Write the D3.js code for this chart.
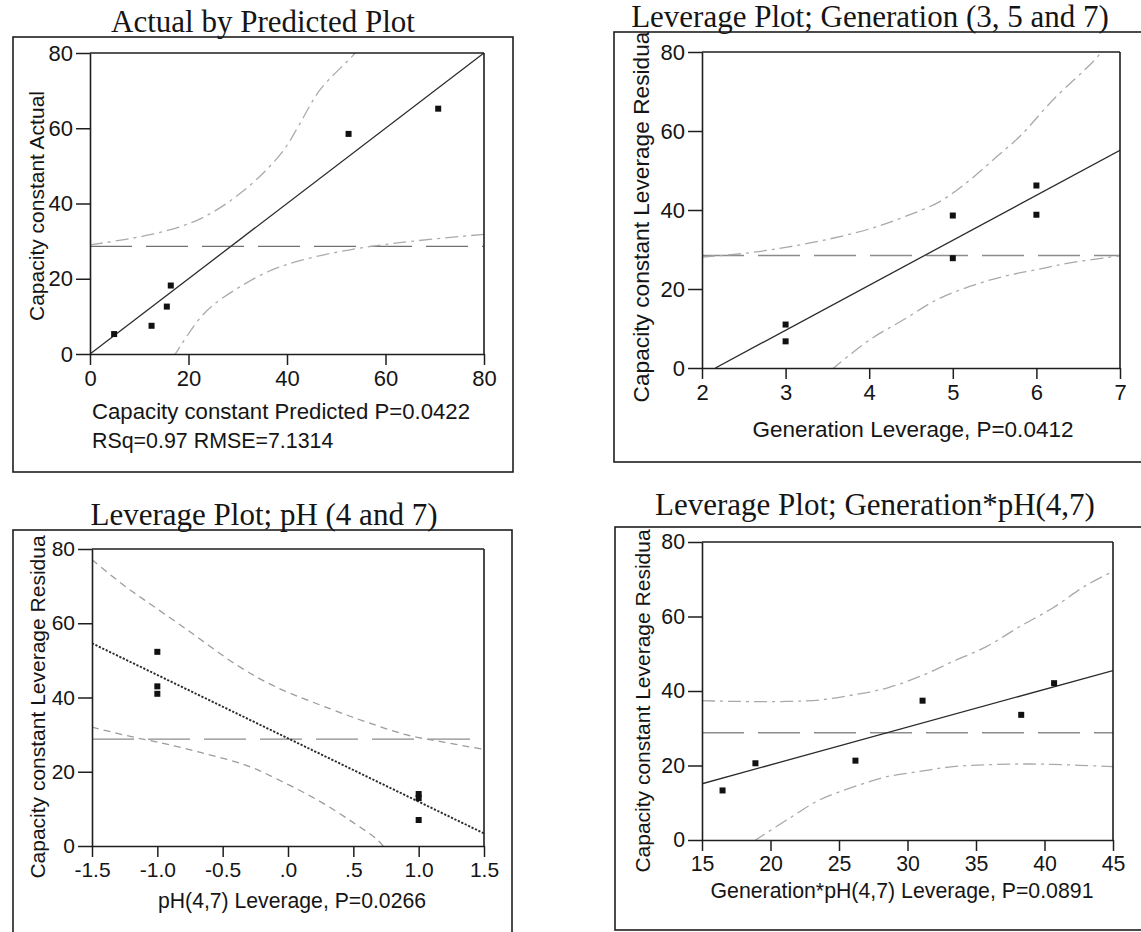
<!DOCTYPE html>
<html>
<head>
<meta charset="utf-8">
<script src="https://cdn.jsdelivr.net/npm/d3@7"></script>
<style>
  html, body { margin: 0; padding: 0; background: #fff; }
  svg { display: block; }
</style>
</head>
<body>
<svg id="chart" width="1141" height="932"></svg>
<script>
// ---------- Actual by Predicted ----------
const apTitle = "Actual by Predicted Plot";
const apXLabel = "Capacity constant Predicted P=0.0422";
const apXLabel2 = "RSq=0.97 RMSE=7.1314";
const apYLabel = "Capacity constant Actual";
const apXTicks = [0, 20, 40, 60, 80];
const apXTickLabels = ["0", "20", "40", "60", "80"];
const apPredicted = [4.9, 12.5, 15.6, 16.4, 52.5, 70.7];
const apActual = [5.3, 7.5, 12.6, 18.2, 58.5, 65.2];
const apFitX = [0, 80];
const apFitY = [0, 80];
const apMean = 28.6;
const apUpperX = [0, 12.2, 20.6, 25.7, 30.5, 35.5, 39.6, 42.3, 46.7, 53.5, 55];
const apUpperY = [29.0, 31.7, 34.9, 38.3, 42.7, 48.5, 54.7, 60.5, 70.2, 79.5, 82];
const apLowerX = [16.8, 17.3, 22, 25, 30, 36, 42.6, 52.8, 62.9, 80];
const apLowerY = [-1, 0, 9.0, 13.0, 17.5, 21.8, 24.8, 27.7, 29.6, 31.8];

// ---------- Leverage: Generation ----------
const genTitle = "Leverage Plot; Generation (3, 5 and 7)";
const genXLabel = "Generation Leverage, P=0.0412";
const genYLabel = "Capacity constant Leverage Residua";
const genXTicks = [2, 3, 4, 5, 6, 7];
const genXTickLabels = ["2", "3", "4", "5", "6", "7"];
const genX = [3, 3, 5, 5, 6, 6];
const genY = [11.0, 6.75, 38.6, 27.8, 46.2, 38.8];
const genFitX = [2.16, 7];
const genFitY = [0, 55.1];
const genMean = 28.5;
const genUpperX = [2.0, 2.54, 3.02, 3.49, 3.97, 4.41, 4.85, 5.21, 5.53, 5.80, 6.20, 6.68, 6.80];
const genUpperY = [28.1, 29.1, 30.6, 32.5, 35.0, 38.2, 42.2, 47.7, 53.6, 58.6, 67.9, 77.6, 80.5];
const genLowerX = [3.55, 3.65, 4.01, 4.41, 4.81, 5.21, 5.61, 6.0, 6.40, 7.0];
const genLowerY = [-0.5, 1.3, 7.2, 12.2, 17.3, 20.7, 23.2, 24.9, 26.6, 28.4];

// ---------- Leverage: pH ----------
const phTitle = "Leverage Plot; pH (4 and 7)";
const phXLabel = "pH(4,7) Leverage, P=0.0266";
const phYLabel = "Capacity constant Leverage Residua";
const phXTicks = [-1.5, -1.0, -0.5, 0, 0.5, 1.0, 1.5];
const phXTickLabels = ["-1.5", "-1.0", "-0.5", ".0", ".5", "1.0", "1.5"];
const phX = [-1, -1, -1, 1, 1, 1];
const phY = [52.3, 43.0, 41.0, 14.0, 12.9, 7.0];
const phFitX = [-1.5, 1.5];
const phFitY = [54.6, 3.4];
const phMean = 28.8;
const phUpperX = [-1.5, -1.26, -1.10, -0.77, -0.39, -0.09, 0.32, 0.60, 0.91, 1.19, 1.5];
const phUpperY = [77.1, 70.3, 66.3, 58.2, 48.7, 42.8, 37.0, 33.4, 29.9, 28.0, 26.0];
const phLowerX = [-1.5, -1.18, -1.0, -0.67, -0.31, -0.03, 0.25, 0.5, 0.68, 0.74];
const phLowerY = [32.0, 29.3, 28.0, 25.2, 21.6, 17.1, 11.9, 6.3, 1.8, -0.5];

// ---------- Leverage: Generation*pH ----------
const gxpTitle = "Leverage Plot; Generation*pH(4,7)";
const gxpXLabel = "Generation*pH(4,7) Leverage, P=0.0891";
const gxpYLabel = "Capacity constant Leverage Residua";
const gxpXTicks = [15, 20, 25, 30, 35, 40, 45];
const gxpXTickLabels = ["15", "20", "25", "30", "35", "40", "45"];
const gxpX = [16.5, 18.9, 26.2, 31.1, 38.3, 40.7];
const gxpY = [13.3, 20.6, 21.3, 37.4, 33.6, 42.1];
const gxpFitX = [15, 45];
const gxpFitY = [15.1, 45.5];
const gxpMean = 28.8;
const gxpUpperX = [15, 17.6, 21.2, 23.6, 26.1, 28.5, 30.9, 33.3, 35.8, 38.2, 40.6, 43.1, 45];
const gxpUpperY = [37.4, 37.2, 37.2, 37.6, 39.0, 40.8, 43.9, 47.9, 52.0, 57.3, 62.3, 68.5, 72.1];
const gxpLowerX = [18.8, 19.0, 21.2, 23.6, 26.1, 28.5, 30.9, 33.3, 35.8, 38.2, 40.6, 45];
const gxpLowerY = [-0.4, 0.2, 5.4, 10.8, 14.3, 17.0, 18.4, 19.7, 20.2, 20.4, 20.3, 19.7];

const yTicks = [0, 20, 40, 60, 80];

const SANS = "'Liberation Sans', Arial, Helvetica, sans-serif";
const SERIF = "'Liberation Serif', 'Times New Roman', serif";

const svg = d3.select("#chart");
svg.append("rect").attr("width", 1141).attr("height", 932).attr("fill", "#fff");

const zip = (xs, ys) => xs.map((x, i) => [x, ys[i]]);

const panels = [
  {
    id: "ap", title: apTitle, xLabel: apXLabel, xLabel2: apXLabel2, yLabel: apYLabel,
    xDomain: [0, 80], xTicks: apXTicks, xTickLabels: apXTickLabels,
    pts: zip(apPredicted, apActual), fit: zip(apFitX, apFitY), mean: apMean,
    upper: zip(apUpperX, apUpperY), lower: zip(apLowerX, apLowerY),
    frame: [13, 37, 513, 472], plot: [90, 484, 53, 354],
    titlePos: [263, 32], titleSize: 31,
    xLabelPos: [92, 419], xLabelAnchor: "start", xLabelSize: 22.2,
    xLabel2Pos: [92, 448], xLabel2Size: 21.4,
    yLabelPos: [37, 206], yLabelSize: 21, tickSize: 22,
    fitDash: null, meanColor: "#707070", confColor: "#ababab", confDash: "13,5,3,5"
  },
  {
    id: "gen", title: genTitle, xLabel: genXLabel, yLabel: genYLabel,
    xDomain: [2, 7], xTicks: genXTicks, xTickLabels: genXTickLabels,
    pts: zip(genX, genY), fit: zip(genFitX, genFitY), mean: genMean,
    upper: zip(genUpperX, genUpperY), lower: zip(genLowerX, genLowerY),
    frame: [614, 32, 1160, 462], plot: [702, 1120, 52, 368],
    titlePos: [870, 27], titleSize: 31,
    xLabelPos: [913, 437], xLabelAnchor: "middle", xLabelSize: 22.5,
    yLabelPos: [641, 217], yLabelSize: 22.7, tickSize: 22,
    fitDash: null, meanColor: "#8c8c8c", confColor: "#a9a9a9", confDash: "13,5,3,5"
  },
  {
    id: "ph", title: phTitle, xLabel: phXLabel, yLabel: phYLabel,
    xDomain: [-1.5, 1.5], xTicks: phXTicks, xTickLabels: phXTickLabels,
    pts: zip(phX, phY), fit: zip(phFitX, phFitY), mean: phMean,
    upper: zip(phUpperX, phUpperY), lower: zip(phLowerX, phLowerY),
    frame: [13, 530, 512, 960], plot: [92, 484, 549, 846],
    titlePos: [264, 525], titleSize: 31,
    xLabelPos: [292, 908], xLabelAnchor: "middle", xLabelSize: 21.2,
    yLabelPos: [38, 707], yLabelSize: 21, tickSize: 21,
    fitDash: "2.2,1.6", meanColor: "#8c8c8c", confColor: "#9c9c9c", confDash: "7,5"
  },
  {
    id: "gxp", title: gxpTitle, xLabel: gxpXLabel, yLabel: gxpYLabel,
    xDomain: [15, 45], xTicks: gxpXTicks, xTickLabels: gxpXTickLabels,
    pts: zip(gxpX, gxpY), fit: zip(gxpFitX, gxpFitY), mean: gxpMean,
    upper: zip(gxpUpperX, gxpUpperY), lower: zip(gxpLowerX, gxpLowerY),
    frame: [615, 527, 1160, 930], plot: [702, 1113, 542, 840],
    titlePos: [875, 515], titleSize: 31,
    xLabelPos: [902, 898], xLabelAnchor: "middle", xLabelSize: 21.3,
    yLabelPos: [643, 701], yLabelSize: 21, tickSize: 21.3,
    fitDash: null, meanColor: "#8c8c8c", confColor: "#a9a9a9", confDash: "13,5,3,5"
  }
];

panels.forEach(drawPanel);

function drawPanel(p) {
  const [fx0, fy0, fx1, fy1] = p.frame;
  const [pl, pr, pt, pb] = p.plot;
  const g = svg.append("g").attr("class", "panel-" + p.id);

  // outer panel frame
  g.append("rect")
    .attr("x", fx0).attr("y", fy0)
    .attr("width", fx1 - fx0).attr("height", fy1 - fy0)
    .attr("fill", "none").attr("stroke", "#1e1e1e").attr("stroke-width", 1.6);

  const x = d3.scaleLinear().domain(p.xDomain).range([pl, pr]);
  const y = d3.scaleLinear().domain([0, 80]).range([pb, pt]);

  const clipId = "clip-" + p.id;
  g.append("clipPath").attr("id", clipId)
    .append("rect").attr("x", pl).attr("y", pt).attr("width", pr - pl).attr("height", pb - pt);

  const inner = g.append("g").attr("clip-path", `url(#${clipId})`);
  const line = d3.line().x(d => x(d[0])).y(d => y(d[1]));
  const smooth = d3.line().x(d => x(d[0])).y(d => y(d[1])).curve(d3.curveCatmullRom.alpha(0.5));

  // horizontal mean reference line
  inner.append("path")
    .attr("d", line([[p.xDomain[0], p.mean], [p.xDomain[1], p.mean]]))
    .attr("fill", "none").attr("stroke", p.meanColor)
    .attr("stroke-width", 1.4).attr("stroke-dasharray", "42,14");

  // confidence curves
  [p.upper, p.lower].forEach(c => {
    inner.append("path")
      .attr("d", smooth(c))
      .attr("fill", "none").attr("stroke", p.confColor)
      .attr("stroke-width", 1.3).attr("stroke-dasharray", p.confDash);
  });

  // fitted line
  inner.append("path")
    .attr("d", line(p.fit))
    .attr("fill", "none").attr("stroke", "#2a2a2a")
    .attr("stroke-width", p.fitDash ? 1.9 : 1.3)
    .attr("stroke-dasharray", p.fitDash);

  // points
  g.append("g").selectAll("rect").data(p.pts).join("rect")
    .attr("x", d => x(d[0]) - 3).attr("y", d => y(d[1]) - 3)
    .attr("width", 6).attr("height", 6).attr("fill", "#111");

  // plot box: top and right edges
  g.append("line").attr("x1", pl).attr("x2", pr).attr("y1", pt).attr("y2", pt)
    .attr("stroke", "#1e1e1e").attr("stroke-width", 1.6);
  g.append("line").attr("x1", pr).attr("x2", pr).attr("y1", pt).attr("y2", pb)
    .attr("stroke", "#1e1e1e").attr("stroke-width", 1.6);

  // axes
  const xAxis = d3.axisBottom(x)
    .tickValues(p.xTicks)
    .tickFormat((d, i) => p.xTickLabels[i])
    .tickSize(11).tickSizeOuter(0).tickPadding(5);
  const yAxis = d3.axisLeft(y)
    .tickValues(yTicks).tickFormat(d3.format("d"))
    .tickSize(14).tickSizeOuter(0).tickPadding(3);

  const gx = g.append("g").attr("transform", `translate(0,${y(0)})`).call(xAxis);
  const gy = g.append("g").attr("transform", `translate(${pl},0)`).call(yAxis);
  [gx, gy].forEach(a => {
    a.selectAll("path.domain").attr("stroke", "#1e1e1e").attr("stroke-width", 1.6);
    a.selectAll(".tick line").attr("stroke", "#1e1e1e").attr("stroke-width", 1.5);
    a.selectAll(".tick text")
      .attr("fill", "#151515")
      .style("font-family", SANS).style("font-size", p.tickSize + "px");
  });

  // title
  g.append("text")
    .attr("x", p.titlePos[0]).attr("y", p.titlePos[1])
    .attr("text-anchor", "middle")
    .style("font-family", SERIF).style("font-size", p.titleSize + "px")
    .attr("fill", "#151515")
    .text(p.title);

  // x label(s)
  g.append("text")
    .attr("x", p.xLabelPos[0]).attr("y", p.xLabelPos[1])
    .attr("text-anchor", p.xLabelAnchor)
    .style("font-family", SANS).style("font-size", p.xLabelSize + "px")
    .attr("fill", "#151515")
    .text(p.xLabel);
  if (p.xLabel2) {
    g.append("text")
      .attr("x", p.xLabel2Pos[0]).attr("y", p.xLabel2Pos[1])
      .attr("text-anchor", "start")
      .style("font-family", SANS).style("font-size", p.xLabel2Size + "px")
      .attr("fill", "#151515")
      .text(p.xLabel2);
  }

  // y label
  g.append("text")
    .attr("transform", `translate(${p.yLabelPos[0]},${p.yLabelPos[1]}) rotate(-90)`)
    .attr("text-anchor", "middle").attr("dy", "0.35em")
    .style("font-family", SANS).style("font-size", p.yLabelSize + "px")
    .attr("fill", "#151515")
    .text(p.yLabel);
}
</script>
</body>
</html>
